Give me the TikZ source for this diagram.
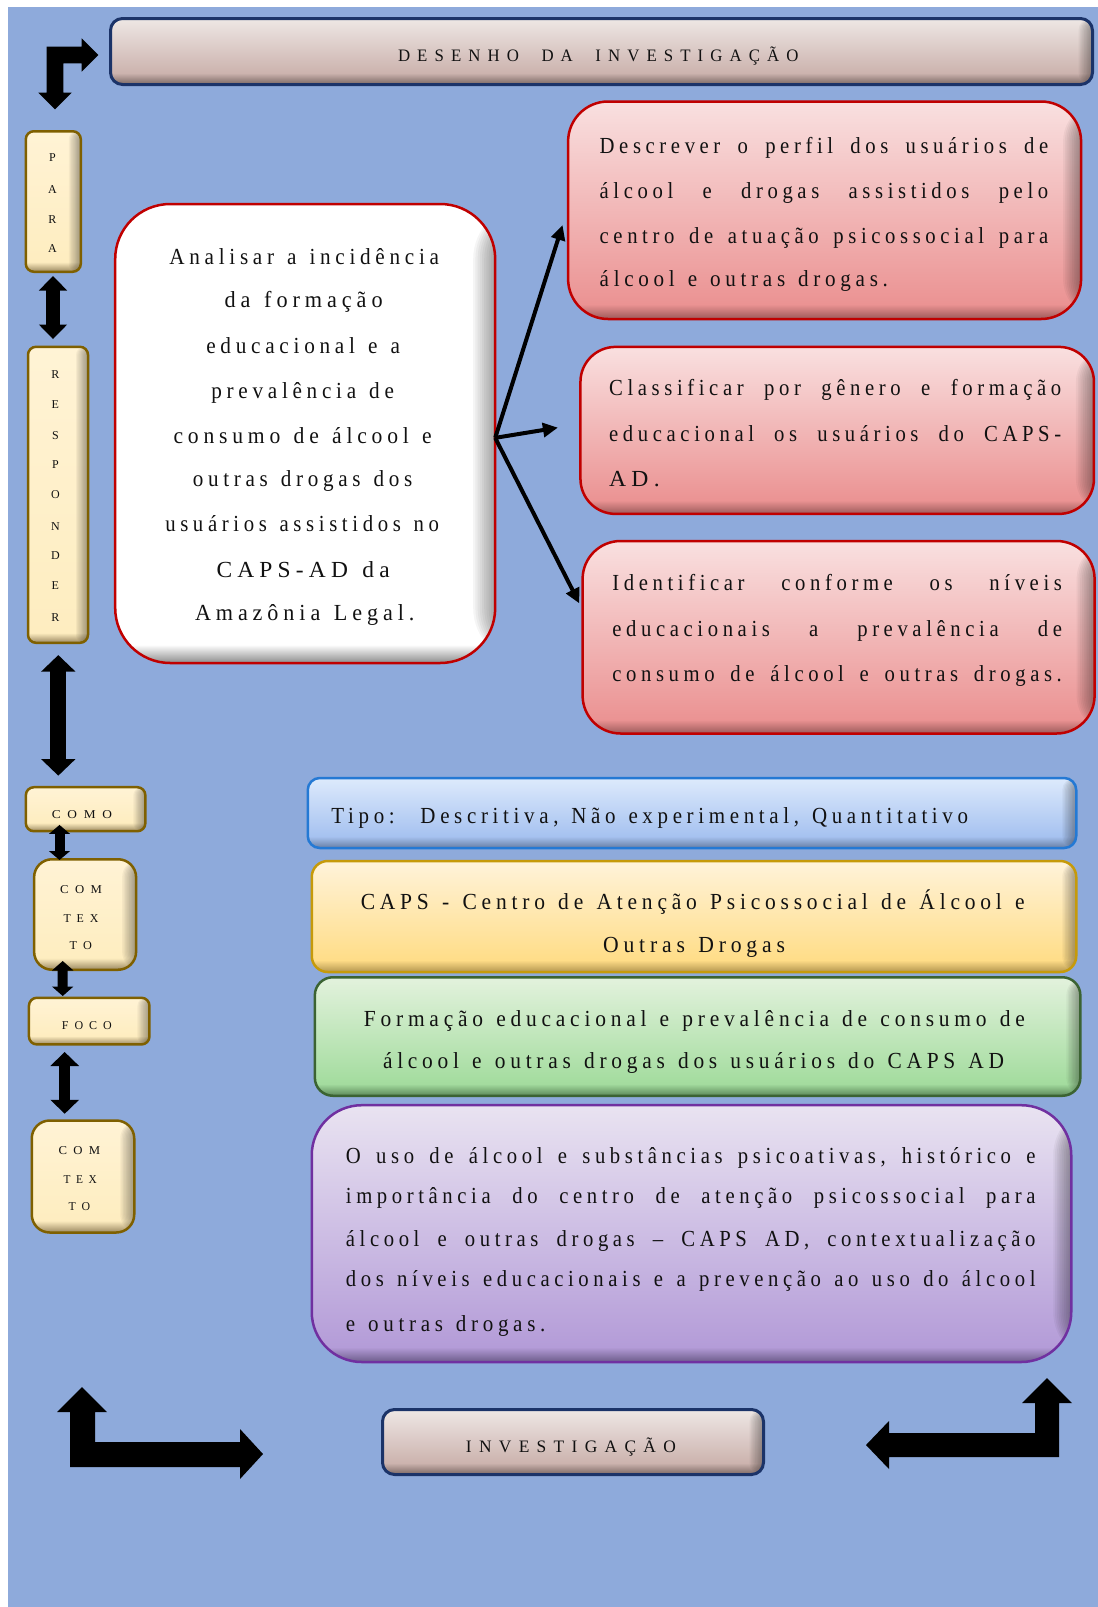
\documentclass[tikz,border=0pt]{standalone}
\usepackage{fontspec}
\usepackage{graphicx}
\usetikzlibrary{arrows.meta,calc}
\setmainfont{Liberation Serif}
\newfontfamily\bodyff[LetterSpace=20,FakeStretch=0.9,WordSpace=1.3]{Liberation Serif}
\newfontfamily\titff[LetterSpace=40,FakeStretch=0.95,WordSpace=2.0]{Liberation Serif}
\newcommand\btx{\bodyff\fontsize{23pt}{27pt}\selectfont}
\newcommand\ttx{\titff\fontsize{17.5pt}{20pt}\selectfont}
\newcommand\stx{\rmfamily\fontsize{12pt}{14pt}\selectfont}
\newcommand\ltx{\rmfamily\fontsize{12pt}{14pt}\selectfont}
\newlength\natw
\newcommand\jline[2]{\settowidth\natw{\btx #2}\ifdim\natw<#1\relax\makebox[#1][s]{\btx #2}\else\resizebox{#1}{\height}{\btx #2}\fi}
\newcommand\fline[3]{\resizebox{#1}{\height}{#2#3}}
\newcommand\sk{\kern6pt }
% colours
\definecolor{bgc}{HTML}{8EAADB}
\definecolor{navy}{HTML}{1B3368}
\definecolor{tT}{HTML}{EEE7E5}\definecolor{tB}{HTML}{CCB3AE}\definecolor{tD}{HTML}{7A6763}
\definecolor{cT}{HTML}{FFF3D5}\definecolor{cB}{HTML}{FEEDC0}\definecolor{cD}{HTML}{9A8860}\definecolor{cbor}{HTML}{7F6000}
\definecolor{redb}{HTML}{C00000}\definecolor{wD}{HTML}{8C8C8C}
\definecolor{rT}{HTML}{F9E0E0}\definecolor{rB}{HTML}{EB9393}\definecolor{rD}{HTML}{9C5A5A}
\definecolor{bT}{HTML}{DDEAFC}\definecolor{bB}{HTML}{A6C2F0}\definecolor{bD}{HTML}{667DA3}\definecolor{bbor}{HTML}{2479D4}
\definecolor{yT}{HTML}{FFF3DA}\definecolor{yB}{HTML}{FFDD88}\definecolor{yD}{HTML}{B49650}\definecolor{ybor}{HTML}{C69A0A}
\definecolor{gT}{HTML}{E3F2DD}\definecolor{gB}{HTML}{A3DC9E}\definecolor{gD}{HTML}{5B8757}\definecolor{gbor}{HTML}{3B6332}
\definecolor{pT}{HTML}{E9E3F1}\definecolor{pB}{HTML}{B49CD8}\definecolor{pD}{HTML}{6C5C8A}\definecolor{pbor}{HTML}{7030A0}
\definecolor{txc}{HTML}{111111}
% shadings: dark band at bottom
\newcommand\mkshade[5]{\pgfdeclareverticalshading{#1}{100bp}{color(0bp)=(#2); color(25bp)=(#2); color(#5bp)=(#3); color(75bp)=(#4); color(100bp)=(#4)}}
\mkshade{shTitle}{tD}{tB}{tT}{33.7}
\mkshade{shInv}{tD}{tB}{tT}{33.8}
\mkshade{shPara}{cD}{cB}{cT}{28.5}
\mkshade{shResp}{cD}{cB}{cT}{26.7}
\mkshade{shComo}{cD}{cB}{cT}{34.7}
\mkshade{shCtx}{cD}{cB}{cT}{30.3}
\mkshade{shFoco}{cD}{cB}{cT}{34.2}
\mkshade{shWb}{wD}{white}{white}{27}
\mkshade{shRa}{rD}{rB}{rT}{28.4}
\mkshade{shRb}{rD}{rB}{rT}{29.1}
\mkshade{shRc}{rD}{rB}{rT}{28.6}
\mkshade{shBl}{bD}{bB}{bT}{33.3}
\mkshade{shYe}{yD}{yB}{yT}{30.4}
\mkshade{shGr}{gD}{gB}{gT}{30}
\mkshade{shPu}{pD}{pB}{pT}{27.9}
\begin{document}
\begin{tikzpicture}[x=1pt,y=-1pt,
  box/.style={draw, line width=2.5pt, inner sep=0pt, outer sep=0pt},
  redge/.style={path picture={\foreach \i in {1,...,10}{\fill[black,opacity=0.04] ($(path picture bounding box.north east)+(-\i*#1/10,0)$) rectangle (path picture bounding box.south east);}}},
  tl/.style={inner sep=0pt, anchor=west, text height=10.3pt, text depth=0pt, text=txc},
  tlc/.style={inner sep=0pt, anchor=west, text height=11.6pt, text depth=0pt, text=txc},
  tls/.style={inner sep=0pt, anchor=west, text height=7.8pt, text depth=0pt, text=txc},
  tlet/.style={inner sep=0pt, anchor=center, text height=8pt, text depth=0pt, text=txc},
  dbl/.style n args={3}{line width=#1, arrows={Triangle[width=#2,length=#3]-Triangle[width=#2,length=#3]}, black},
  thin/.style={line width=4pt, -{Triangle[width=14pt,length=15pt]}, black},
  blockarrow/.style={fill=black}
]
\useasboundingbox (0,0) rectangle (1098,1607);
\fill[white] (0,0) rectangle (1098,1607);
\fill[bgc] (8,7) rectangle (1098,1607);

% ---------- boxes ----------
\node[box, draw=navy, line width=3pt, shading=shTitle, rounded corners=12pt, minimum width=982pt, minimum height=66pt, redge=14] (title) at (601.5,51.5) {};
\node[box, draw=navy, line width=3pt, shading=shInv, rounded corners=12pt, minimum width=381pt, minimum height=65pt, redge=14] (inv) at (573,1442) {};
\node[box, draw=cbor, shading=shPara, rounded corners=8pt, minimum width=55pt, minimum height=140.5pt, redge=12] (para) at (53.3,201.5) {};
\node[box, draw=cbor, shading=shResp, rounded corners=8pt, minimum width=60pt, minimum height=296pt, redge=12] (resp) at (58,494.8) {};
\node[box, draw=cbor, shading=shComo, rounded corners=8pt, minimum width=119.5pt, minimum height=44pt, redge=12] (como) at (85.6,809.2) {};
\node[box, draw=cbor, shading=shCtx, rounded corners=18pt, minimum width=102pt, minimum height=110.5pt, redge=14] (ctx1) at (85.1,914.5) {};
\node[box, draw=cbor, shading=shFoco, rounded corners=8pt, minimum width=120.5pt, minimum height=46.7pt, redge=12] (foco) at (89.2,1021.1) {};
\node[box, draw=cbor, shading=shCtx, rounded corners=18pt, minimum width=102.5pt, minimum height=112pt, redge=14] (ctx2) at (83,1176.5) {};
\node[box, draw=redb, shading=shWb, rounded corners=55pt, minimum width=380pt, minimum height=459pt, redge=22] (wb) at (305.2,433.5) {};
\node[box, draw=redb, shading=shRa, rounded corners=40pt, minimum width=513pt, minimum height=217.5pt, redge=18] (ra) at (824.6,210.25) {};
\node[box, draw=redb, shading=shRb, rounded corners=35pt, minimum width=513.5pt, minimum height=167pt, redge=18] (rb) at (837.2,430.4) {};
\node[box, draw=redb, shading=shRc, rounded corners=38pt, minimum width=512pt, minimum height=192.5pt, redge=18] (rc) at (838.6,637.25) {};
\node[box, draw=bbor, shading=shBl, rounded corners=12pt, minimum width=768.5pt, minimum height=70pt, redge=14] (blue) at (692,813) {};
\node[box, draw=ybor, shading=shYe, rounded corners=16pt, minimum width=764.5pt, minimum height=111pt, redge=14] (yel) at (694,916.5) {};
\node[box, draw=gbor, shading=shGr, rounded corners=18pt, minimum width=765.5pt, minimum height=118.5pt, redge=14] (gre) at (697.6,1036.5) {};
\node[box, draw=pbor, shading=shPu, rounded corners=50pt, minimum width=759.5pt, minimum height=256.8pt, redge=18] (pur) at (691.5,1233.6) {};

% ---------- texts ----------
\node[tlc] (title-t) at (397.8,55.8) {\fline{400.5pt}{\ttx}{DESENHO DA INVESTIGAÇÃO}};
\node[tlc] (inv-t) at (465.7,1446.3) {\fline{210pt}{\ttx}{INVESTIGAÇÃO}};

\node[tlet] (para-1) at (52.5,157.3) {\ltx P};
\node[tlet] (para-2) at (52.5,189.5) {\ltx A};
\node[tlet] (para-3) at (52.5,219.1) {\ltx R};
\node[tlet] (para-4) at (52.5,248.7) {\ltx A};

\node[tlet] (resp-1) at (55.4,374.5) {\ltx R};
\node[tlet] (resp-2) at (55.4,404.1) {\ltx E};
\node[tlet] (resp-3) at (55.4,435.6) {\ltx S};
\node[tlet] (resp-4) at (55.4,464.4) {\ltx P};
\node[tlet] (resp-5) at (55.4,494.7) {\ltx O};
\node[tlet] (resp-6) at (55.4,526.6) {\ltx N};
\node[tlet] (resp-7) at (55.4,555.8) {\ltx D};
\node[tlet] (resp-8) at (55.4,585.4) {\ltx E};
\node[tlet] (resp-9) at (55.4,617.2) {\ltx R};

\node[tls] (como-t) at (51.7,814.7) {\fline{60pt}{\stx}{C\sk O\sk M\sk O}};
\node[tls] (ctx1-1) at (60,890) {\fline{41.7pt}{\stx}{C\sk O\sk M}};
\node[tls] (ctx1-2) at (63.3,918.3) {\fline{35pt}{\stx}{T\sk E\sk X}};
\node[tls] (ctx1-3) at (69.3,945.7) {\fline{22.4pt}{\stx}{T\sk O}};
\node[tls] (foco-t) at (61.7,1026) {\fline{50pt}{\stx}{F\sk O\sk C\sk O}};
\node[tls] (ctx2-1) at (58.3,1150.7) {\fline{41.7pt}{\stx}{C\sk O\sk M}};
\node[tls] (ctx2-2) at (63.3,1179.5) {\fline{33.4pt}{\stx}{T\sk E\sk X}};
\node[tls] (ctx2-3) at (68.3,1207) {\fline{21.7pt}{\stx}{T\sk O}};

\node[tl] (wb-1) at (169.2,259.8) {\fline{269.6pt}{\btx}{Analisar a incidência}};
\node[tl] (wb-2) at (224.5,302.7) {\fline{157.9pt}{\btx}{da formação}};
\node[tl] (wb-3) at (206.1,347.9) {\fline{193.7pt}{\btx}{educacional e a}};
\node[tl] (wb-4) at (211.2,393.4) {\fline{182.5pt}{\btx}{prevalência de}};
\node[tl] (wb-5) at (173.3,438.5) {\fline{258.3pt}{\btx}{consumo de álcool e}};
\node[tl] (wb-6) at (192.7,481) {\fline{219.4pt}{\btx}{outras drogas dos}};
\node[tl] (wb-7) at (165.1,526.6) {\fline{273.7pt}{\btx}{usuários assistidos no}};
\node[tl] (wb-8) at (216.3,572.4) {\fline{173.3pt}{\btx}{CAPS-AD da}};
\node[tl] (wb-9) at (194.8,615) {\fline{219.4pt}{\btx}{Amazônia Legal.}};

\node[tl] (ra-1) at (599.5,148) {\jline{448.5pt}{Descrever o perfil dos usuários de}};
\node[tl] (ra-2) at (599.5,193.6) {\jline{448.5pt}{álcool e drogas assistidos pelo}};
\node[tl] (ra-3) at (599.5,238.4) {\jline{448.5pt}{centro de atuação psicossocial para}};
\node[tl] (ra-4) at (599.5,281.5) {\fline{288.2pt}{\btx}{álcool e outras drogas.}};

\node[tl] (rb-1) at (609,390.6) {\jline{452pt}{Classificar por gênero e formação}};
\node[tl] (rb-2) at (609,436.2) {\jline{452pt}{educacional os usuários do CAPS-}};
\node[tl] (rb-3) at (609,481.8) {\fline{50.5pt}{\btx}{AD.}};

\node[tl] (rc-1) at (612.2,585.4) {\jline{449.5pt}{Identificar conforme os níveis}};
\node[tl] (rc-2) at (612.2,631) {\jline{449.5pt}{educacionais a prevalência de}};
\node[tl] (rc-3) at (612.2,676.6) {\jline{449.5pt}{consumo de álcool e outras drogas.}};

\node[tl] (blue-t) at (331.2,818.3) {\fline{636.6pt}{\btx}{Tipo:\ \ Descritiva, Não experimental, Quantitativo}};

\node[tl] (yel-1) at (360.6,904) {\fline{663.9pt}{\btx}{CAPS - Centro de Atenção Psicossocial de Álcool e}};
\node[tl] (yel-2) at (602.9,947.7) {\fline{181.9pt}{\btx}{Outras Drogas}};

\node[tl] (gre-1) at (363.7,1021.7) {\fline{660.8pt}{\btx}{Formação educacional e prevalência de consumo de}};
\node[tl] (gre-2) at (382.8,1063.3) {\fline{621.1pt}{\btx}{álcool e outras drogas dos usuários do CAPS AD}};

\node[tl] (pur-1) at (345.7,1158.3) {\jline{689.6pt}{O uso de álcool e substâncias psicoativas, histórico e}};
\node[tl] (pur-2) at (345.7,1198.3) {\jline{689.6pt}{importância do centro de atenção psicossocial para}};
\node[tl] (pur-3) at (345.7,1241) {\jline{689.6pt}{álcool e outras drogas – CAPS AD, contextualização}};
\node[tl] (pur-4) at (345.7,1281) {\jline{689.6pt}{dos níveis educacionais e a prevenção ao uso do álcool}};
\node[tl] (pur-5) at (345.7,1326.7) {\fline{199.5pt}{\btx}{e outras drogas.}};

% ---------- double block arrows ----------
\draw[dbl={14pt}{27.4pt}{14.5pt}] ($(para.south)+(-0.3,4.25)$) -- ($(resp.north)+(-5,-7.75)$);
\draw[dbl={16pt}{33.3pt}{16.5pt}] ($(resp.south)+(0.3,12.25)$) -- ($(como.north)+(-27.3,-11.55)$);
\draw[dbl={10pt}{20.7pt}{9pt}] ($(como.south)+(-26.1,-6.25)$) -- ($(ctx1.north)+(-25.6,0.75)$);
\draw[dbl={10pt}{21pt}{9.5pt}] ($(ctx1.south)+(-22.4,-8.75)$) -- ($(foco.north)+(-26.5,-1.75)$);
\draw[dbl={10.7pt}{28pt}{14pt}] ($(foco.south)+(-24.5,7.55)$) -- ($(ctx2.north)+(-18.3,-6.75)$);

% ---------- thin arrows from the main objective ----------
\coordinate (hub) at ($(wb.east)+(0,4.35)$);
\coordinate (ta) at ($(ra.west)+(-5.55,14.75)$);
\coordinate (tb) at ($(rb.west)+(-22.55,-2.8)$);
\coordinate (tc) at ($(rc.west)+(-3.25,-33.85)$);
\draw[thin] (hub) -- (ta);
\draw[thin] (hub) -- (tb);
\draw[thin] (hub) -- (tc);

% ---------- bent block arrows ----------
\fill[blockarrow] (46.7,46.7) -- (81.7,46.7) -- (81.7,38.3) -- (98.3,55) -- (81.7,71.7) -- (81.7,63.3)
  -- (63.3,63.3) -- (63.3,92.7) -- (71.7,92.7) -- (55,109.3) -- (38.3,92.7) -- (46.7,92.7) -- cycle;
\fill[blockarrow] (70,1467) -- (70,1412) -- (57,1412) -- (82,1387) -- (107,1412) -- (95,1412) -- (95,1442)
  -- (240,1442) -- (240,1429) -- (263,1454) -- (240,1479) -- (240,1467) -- cycle;
\fill[blockarrow] (1059,1457) -- (889,1457) -- (889,1469) -- (866,1445) -- (889,1421) -- (889,1433)
  -- (1035,1433) -- (1035,1403) -- (1022,1403) -- (1047,1378) -- (1072,1403) -- (1059,1403) -- cycle;
\end{tikzpicture}
\end{document}
